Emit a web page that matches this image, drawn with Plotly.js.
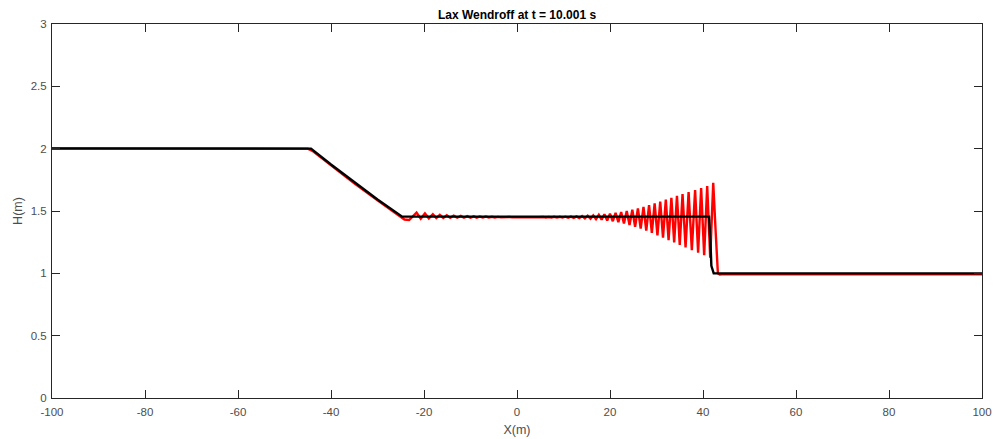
<!DOCTYPE html>
<html>
<head>
<meta charset="utf-8">
<script src="https://cdn.plot.ly/plotly-3.0.1.min.js"></script>
<style>html,body{margin:0;padding:0;background:#fff;}#chart{width:994px;height:439px;}</style>
</head>
<body>
<div id="chart"></div>
<script>
// Lax-Wendroff numerical solution (red)
const laxX = [-100, -46, -45, -44, -40, -35, -30, -26.5, -25, -24.2, -23.2,
  -21.6, -20.7, -19.8, -18.95, -18.1, -17.35, -16.6, -15.85, -15.1, -14.35,
  -13.6, -12.85, -12.1, -11.4, -10.7, -10.0, -9.3, -8.65, -8.0, -7.35,
  -6.7, -6.05, -5.4, -4.75, -4.1, -3.45, -2.8, -2.2, -1.6, -1.0,
  -0.4, 0.2, 0.8, 1.4, 2.0, 2.6, 3.2, 3.8, 4.4, 5.0,
  5.6, 6.2, 6.8, 7.4, 8.0, 8.6, 9.2, 9.8, 10.4, 11.0,
  11.6, 12.2, 12.8, 13.4, 14.0, 14.6, 15.2, 15.8, 16.4, 17.0,
  17.6, 18.2, 18.8, 19.4, 20.0, 20.6, 21.2, 21.8, 22.4, 23.0,
  23.6, 24.2, 24.8, 25.4, 26.0, 26.6, 27.2, 27.8, 28.4, 29.0,
  29.6, 30.2, 30.8, 31.4, 32.0, 32.6, 33.2, 33.8, 34.4, 35.0,
  35.6, 36.25, 36.9, 37.6, 38.3, 38.95, 39.6, 40.25, 40.9, 41.55,
  42.2, 42.7, 43.2, 43.6, 44, 100];
const laxH = [2.004, 2.004, 2.0, 1.982, 1.866, 1.722, 1.585, 1.49, 1.452, 1.432, 1.428,
  1.487, 1.438, 1.480, 1.441, 1.474, 1.443, 1.469, 1.444, 1.466, 1.445,
  1.463, 1.446, 1.461, 1.446, 1.459, 1.447, 1.457, 1.447, 1.456, 1.448,
  1.455, 1.448, 1.454, 1.448, 1.453, 1.449, 1.452, 1.449, 1.452, 1.449,
  1.451, 1.449, 1.451, 1.449, 1.451, 1.449, 1.451, 1.449, 1.451, 1.449,
  1.452, 1.448, 1.452, 1.448, 1.453, 1.447, 1.453, 1.447, 1.454, 1.446,
  1.455, 1.445, 1.457, 1.443, 1.459, 1.441, 1.462, 1.438, 1.465, 1.434,
  1.469, 1.430, 1.474, 1.424, 1.479, 1.418, 1.485, 1.410, 1.492, 1.400,
  1.500, 1.388, 1.510, 1.374, 1.521, 1.358, 1.533, 1.342, 1.547, 1.324,
  1.561, 1.305, 1.576, 1.286, 1.591, 1.267, 1.606, 1.248, 1.621, 1.228,
  1.636, 1.207, 1.651, 1.186, 1.668, 1.165, 1.685, 1.145, 1.700, 1.125,
  1.726, 1.35, 1.0, 0.99, 0.993, 0.993];

// Exact solution (black)
const exactX = [-100, -44.3, -40, -35, -30, -24.7, 41.3, 41.6, 41.8, 42.3, 100];
const exactH = [2.0, 2.0, 1.873, 1.730, 1.593, 1.4545, 1.4545, 1.25, 1.06, 1.0, 1.0];

const xTickVals = [-100, -80, -60, -40, -20, 0, 20, 40, 60, 80, 100];
const xTickText = ['-100', '-80', '-60', '-40', '-20', '0', '20', '40', '60', '80', '100'];
const yTickVals = [0, 0.5, 1, 1.5, 2, 2.5, 3];
const yTickText = ['0', '0.5', '1', '1.5', '2', '2.5', '3'];

const FONT = 'Liberation Sans, Arial, Helvetica, sans-serif';
const AX = '#262626';
const LBL = '#4d4d4d';

const traces = [
  {x: laxX, y: laxH, type: 'scatter', mode: 'lines', line: {color: '#ff0000', width: 2.4}, hoverinfo: 'skip'},
  {x: exactX, y: exactH, type: 'scatter', mode: 'lines', line: {color: '#000000', width: 2.4}, hoverinfo: 'skip'}
];

const axisCommon = {
  showgrid: false, zeroline: false, showline: true, mirror: 'allticks',
  linecolor: AX, linewidth: 1, ticks: 'inside', ticklen: 8, tickwidth: 1, tickcolor: AX,
  tickfont: {family: FONT, size: 11.5, color: LBL}, tickmode: 'array'
};

const layout = {
  width: 994, height: 439,
  margin: {l: 52, r: 12, t: 24, b: 41},
  paper_bgcolor: '#ffffff', plot_bgcolor: '#ffffff',
  showlegend: false,
  font: {family: FONT, color: AX},
  title: {text: '<b>Lax Wendroff at t = 10.001 s</b>', font: {family: FONT, size: 12, color: '#000'},
          x: 0.5201, xanchor: 'center', y: 1 - 15/439, yref: 'container', yanchor: 'middle'},
  xaxis: Object.assign({}, axisCommon, {range: [-100, 100], tickvals: xTickVals, ticktext: xTickText,
          ticklabelstandoff: 3,
          title: {text: 'X(m)', font: {family: FONT, size: 12.5, color: LBL}, standoff: 8}}),
  yaxis: Object.assign({}, axisCommon, {range: [0, 3], tickvals: yTickVals, ticktext: yTickText,
          ticklabelstandoff: 2,
          title: {text: 'H(m)', font: {family: FONT, size: 12.5, color: LBL}, standoff: 5}})
};

Plotly.newPlot('chart', traces, layout, {displayModeBar: false, staticPlot: true});
</script>
</body>
</html>
